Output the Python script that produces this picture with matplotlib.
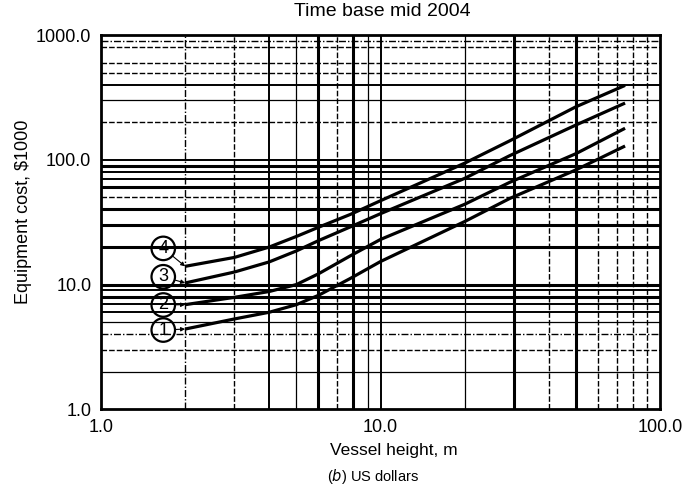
import matplotlib
matplotlib.use('Agg')
import matplotlib.pyplot as plt
from matplotlib.ticker import NullLocator

plt.rcParams['font.family'] = ['Liberation Sans', 'DejaVu Sans']

# ---- data ----
height = [2, 3, 4, 5, 6, 7.8, 10, 20, 29, 50, 75]
cost_1 = [4.4, 5.3, 6.0, 6.9, 8.2, 11.2, 15.3, 32, 49, 83, 129]
cost_2 = [6.9, 7.9, 8.8, 10.0, 12.2, 17.0, 23, 44, 66, 112, 179]
cost_3 = [10.3, 12.6, 15.2, 18.6, 22.5, 29, 37, 71, 108, 190, 285]
cost_4 = [14, 16.5, 20, 24.3, 28.8, 36.5, 47, 94, 142, 266, 395]
curve_labels = ['1', '2', '3', '4']
label_x = 1.67
label_y = [4.32, 6.86, 11.55, 19.5]

x_ticks = [1, 10, 100]
x_ticklabels = ['1.0', '10.0', '100.0']
y_ticks = [1, 10, 100, 1000]
y_ticklabels = ['1.0', '10.0', '100.0', '1000.0']

# ---- figure ----
fig = plt.figure(figsize=(6.89, 5.01), dpi=100)
ax = fig.add_axes([0.1466, 0.183, 0.8113, 0.747])
ax.set_xscale('log')
ax.set_yscale('log')
ax.set_xlim(1, 100)
ax.set_ylim(1, 1000)

thick = dict(color='black', lw=2.2)
medium = dict(color='black', lw=1.4)
thin = dict(color='black', lw=0.9)
dashed = dict(color='black', lw=1.0, ls=(0, (4, 1.5)))
dashdot = dict(color='black', lw=1.0, ls=(0, (5, 1.5, 1, 1.5)))

v_grid = {2: dashdot, 3: dashed, 4: medium, 5: thin, 6: thick, 7: dashed,
          8: thick, 9: thin, 10: medium, 20: thin, 30: thick, 40: dashed,
          50: thick, 60: dashed, 70: dashed, 80: dashed, 90: dashed}
h_grid = {2: thin, 3: dashed, 4: dashdot, 5: thin, 6: medium, 7: medium,
          8: thick, 9: medium, 10: thick, 20: thick, 30: thick, 40: thick,
          50: dashed, 60: thick, 70: medium, 80: medium, 90: thick,
          100: medium, 200: dashed, 300: thin, 400: medium, 500: dashed,
          600: dashed, 800: dashed, 900: dashdot}
for v, st in v_grid.items():
    ax.axvline(v, zorder=1, **st)
for h, st in h_grid.items():
    ax.axhline(h, zorder=1, **st)

for cost in (cost_1, cost_2, cost_3, cost_4):
    ax.plot(height, cost, color='black', lw=2.3, solid_capstyle='butt',
            solid_joinstyle='round', zorder=3)

starts = [cost_1[0], cost_2[0], cost_3[0], cost_4[0]]
for lab, ly, cy in zip(curve_labels, label_y, starts):
    ax.annotate(lab, xy=(height[0], cy), xytext=(label_x, ly),
                ha='center', va='center', fontsize=13,
                bbox=dict(boxstyle='circle,pad=0.18', fc='none', ec='black', lw=1.6),
                arrowprops=dict(arrowstyle='-|>', color='black', lw=0.8,
                                mutation_scale=6, shrinkA=0, shrinkB=0),
                zorder=5)

ax.xaxis.set_minor_locator(NullLocator())
ax.yaxis.set_minor_locator(NullLocator())
ax.set_xticks(x_ticks)
ax.set_xticklabels(x_ticklabels)
ax.set_yticks(y_ticks)
ax.set_yticklabels(y_ticklabels)
ax.tick_params(length=0, pad=7, labelsize=13)
for s in ax.spines.values():
    s.set_linewidth(2)
    s.set_color('black')

fig.text(382 / 689, 1 - 12 / 501, 'Time base mid 2004', ha='center', va='center', fontsize=14)
fig.text(24 / 689, 1 - 211.5 / 501, 'Equipment cost, $1000', ha='center', va='center',
         rotation=90, fontsize=13)
fig.text(394 / 689, 1 - 451 / 501, 'Vessel height, m', ha='center', va='center', fontsize=12.5)
fig.text(373 / 689, 1 - 476 / 501, r'($\it{b}$) US dollars', ha='center', va='center', fontsize=10.5)

fig.savefig('out.png', dpi=100)
